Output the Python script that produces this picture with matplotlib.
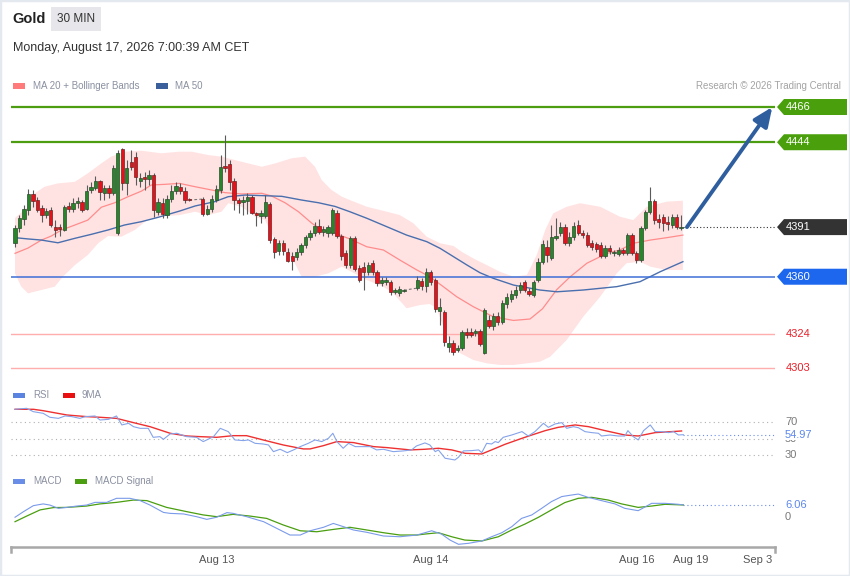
import numpy as np
import matplotlib
matplotlib.use('Agg')
import matplotlib.pyplot as plt
from matplotlib.patches import Rectangle, Polygon
import matplotlib.transforms as mtransforms

plt.rcParams['font.family'] = ['Liberation Sans', 'DejaVu Sans']

N = np.nan
# ---------------- candle data (30 min, NaN = no data) ----------------
opens = [4381.0, 4390.4, 4396.0, 4401.6, 4411.6, 4407.9, 4402.9, 4398.5, 4401.6, 4391.0,
         4391.0, 4389.1, 4404.1, 4402.3, 4406.0, 4406.6, 4402.3, 4414.1, 4415.4, 4419.8,
         4412.3, 4415.4, 4412.3, 4387.3, 4439.8, 4418.5, 4431.6, 4434.8, 4419.8, 4422.3,
         4421.0, 4423.5, 4400.4, 4406.0, 4398.5, 4408.5, 4413.5, 4416.0, 4413.5, 4408.5,
         N, N,
         4408.5, 4399.1, 4402.3, 4407.9, 4414.1, 4429.1, 4430.4, 4419.8, 4407.9, 4406.6,
         4407.3, 4409.8, 4399.8, 4397.9, 4397.9, 4405.4, 4383.5, 4376.0, 4381.0, 4375.4,
         4372.9, 4372.3, 4375.4, 4379.8, 4384.8, 4387.3, 4391.6, 4387.9, 4387.3, 4387.3,
         4399.8, 4385.4, 4374.8, 4367.3, 4384.1, 4365.4, 4366.0, 4362.9, 4368.5, 4362.9,
         4356.0, 4356.6, 4356.6, 4350.4, 4349.8, 4351.0,
         N, N,
         4352.9, 4357.3, 4354.1, 4362.9, 4357.9, 4338.5, 4337.9, 4316.0, 4318.5, 4314.1,
         4315.4, 4325.4, 4325.4, 4324.8, 4326.0, 4312.3, 4332.9, 4329.1, 4335.4, 4331.6,
         4342.9, 4346.0, 4348.5, 4351.6, 4356.6, 4351.0, 4348.5, 4357.9, 4369.1, 4378.5,
         4371.6, 4384.1, 4387.3, 4391.0, 4381.0, 4384.8, 4392.3, 4387.3, 4386.0, 4381.0,
         4380.4, 4379.8, 4372.9, 4377.9, 4374.8, 4374.1, 4376.6, 4374.8, 4386.0, 4374.8,
         4370.4, 4390.4, 4400.4, 4407.3, 4396.0, 4397.3, 4394.1, 4392.3, 4397.3, 4390.4]
closes = [4390.4, 4396.6, 4402.3, 4411.6, 4407.3, 4401.6, 4398.5, 4401.0, 4392.3, 4389.1,
          4389.8, 4403.5, 4402.3, 4406.0, 4407.3, 4401.6, 4413.5, 4416.0, 4419.8, 4412.9,
          4415.4, 4412.3, 4427.9, 4437.3, 4418.5, 4427.9, 4428.5, 4422.3, 4421.6, 4421.0,
          4423.5, 4401.6, 4406.6, 4399.1, 4408.5, 4413.5, 4416.6, 4413.5, 4407.9, 4407.9,
          N, N,
          4399.1, 4402.3, 4408.5, 4414.8, 4428.5, 4427.9, 4419.1, 4407.9, 4406.0, 4407.9,
          4409.8, 4399.8, 4398.5, 4399.8, 4406.6, 4382.9, 4375.4, 4381.0, 4376.0, 4369.8,
          4369.8, 4375.4, 4379.8, 4384.8, 4387.3, 4391.6, 4387.9, 4389.8, 4391.0, 4401.6,
          4385.4, 4372.9, 4367.3, 4384.1, 4364.8, 4357.9, 4362.9, 4367.3, 4362.9, 4356.0,
          4357.9, 4357.9, 4350.4, 4351.6, 4352.3, 4351.6,
          N, N,
          4357.9, 4354.1, 4362.9, 4356.6, 4339.8, 4341.0, 4319.1, 4318.5, 4312.9, 4315.4,
          4325.4, 4323.5, 4323.5, 4326.0, 4317.9, 4339.1, 4329.1, 4335.4, 4331.6, 4343.5,
          4347.3, 4349.1, 4351.6, 4354.8, 4351.6, 4349.1, 4356.6, 4369.1, 4380.4, 4373.5,
          4384.8, 4385.4, 4391.0, 4381.0, 4384.8, 4391.6, 4387.3, 4386.0, 4379.8, 4378.5,
          4377.3, 4372.9, 4377.9, 4376.0, 4375.4, 4376.6, 4374.8, 4386.0, 4374.8, 4370.4,
          4390.4, 4400.4, 4407.3, 4395.4, 4394.1, 4393.5, 4392.9, 4397.3, 4391.0, 4391.0]
highs = [4392.3, 4398.5, 4404.8, 4414.8, 4414.1, 4409.8, 4404.8, 4402.9, 4403.5, 4395.4,
         4392.9, 4404.8, 4406.6, 4409.1, 4409.8, 4407.9, 4417.3, 4419.1, 4422.9, 4420.4,
         4417.3, 4417.3, 4429.8, 4439.1, 4440.4, 4432.9, 4439.1, 4437.9, 4424.8, 4425.4,
         4426.6, 4424.8, 4409.1, 4409.1, 4411.0, 4417.3, 4419.1, 4418.5, 4416.0, 4409.1,
         N, N,
         4409.8, 4404.8, 4411.0, 4417.3, 4436.0, 4448.5, 4432.9, 4421.6, 4409.1, 4410.4,
         4412.3, 4411.0, 4400.4, 4401.6, 4411.0, 4406.6, 4384.8, 4382.9, 4382.9, 4377.9,
         4375.4, 4377.9, 4381.0, 4386.0, 4389.1, 4394.1, 4396.0, 4391.6, 4392.3, 4402.9,
         4401.6, 4386.6, 4376.6, 4385.4, 4385.4, 4367.3, 4369.1, 4369.1, 4370.4, 4364.1,
         4359.8, 4359.8, 4357.9, 4352.9, 4354.1, 4352.3,
         N, N,
         4360.4, 4359.1, 4365.4, 4364.1, 4359.1, 4346.6, 4339.1, 4322.9, 4320.4, 4317.3,
         4326.6, 4327.9, 4327.9, 4327.3, 4327.3, 4340.4, 4336.0, 4337.3, 4337.9, 4345.4,
         4349.8, 4351.6, 4354.1, 4356.6, 4357.9, 4352.9, 4357.9, 4371.6, 4382.9, 4382.9,
         4392.3, 4396.6, 4394.1, 4392.9, 4387.9, 4394.1, 4395.4, 4389.1, 4387.9, 4382.9,
         4381.6, 4381.6, 4379.8, 4379.8, 4376.6, 4378.5, 4377.9, 4387.3, 4387.3, 4376.0,
         4391.6, 4401.6, 4416.0, 4408.5, 4399.1, 4399.1, 4397.9, 4399.1, 4399.1, 4398.5]
lows = [4378.5, 4387.9, 4392.3, 4398.5, 4403.5, 4400.4, 4394.1, 4396.6, 4391.0, 4384.8,
        4385.4, 4388.5, 4400.4, 4400.4, 4402.9, 4400.4, 4401.6, 4412.3, 4414.1, 4407.9,
        4407.9, 4409.1, 4411.0, 4386.0, 4414.1, 4411.0, 4426.6, 4417.3, 4416.0, 4414.1,
        4417.3, 4397.3, 4398.5, 4396.6, 4396.6, 4406.6, 4411.6, 4411.6, 4406.0, 4407.3,
        N, N,
        4397.9, 4398.5, 4400.4, 4406.6, 4412.3, 4425.4, 4414.1, 4401.6, 4399.8, 4398.5,
        4399.1, 4399.1, 4391.6, 4393.5, 4396.6, 4381.0, 4371.6, 4373.5, 4373.5, 4369.1,
        4364.1, 4370.4, 4373.5, 4377.9, 4382.9, 4385.4, 4386.6, 4385.4, 4384.8, 4386.0,
        4384.1, 4370.4, 4365.4, 4365.4, 4363.5, 4356.6, 4351.6, 4361.0, 4361.0, 4354.1,
        4354.1, 4354.8, 4348.5, 4349.1, 4347.9, 4350.4,
        N, N,
        4351.6, 4351.6, 4350.4, 4354.8, 4337.9, 4329.8, 4316.6, 4312.9, 4311.0, 4312.9,
        4314.1, 4321.6, 4322.3, 4322.9, 4316.6, 4311.6, 4327.9, 4326.6, 4329.8, 4330.4,
        4340.4, 4344.1, 4346.6, 4349.8, 4350.4, 4347.9, 4347.3, 4356.6, 4367.9, 4369.1,
        4370.4, 4382.9, 4385.4, 4379.8, 4379.1, 4382.9, 4386.0, 4384.1, 4378.5, 4376.6,
        4375.4, 4371.6, 4371.6, 4374.1, 4372.9, 4372.9, 4373.5, 4373.5, 4373.5, 4368.5,
        4369.1, 4389.1, 4399.1, 4392.9, 4390.4, 4388.5, 4389.1, 4390.4, 4389.8, 4389.1]

# ---------------- overlays (bar index, price) ----------------
ma20_x = [0, 2.9, 5.9, 8.1, 10.4, 13.4, 16.3, 19.3, 22.3, 25.3, 28.3, 30.5, 33.5, 36.8, 40.3,
          43.2, 47.0, 50.7, 55.2, 57.4, 60.4, 63.4, 66.4, 68.6, 71.6, 74.9, 78.7, 82.4, 86.1,
          89.9, 92.8, 95.8, 98.8, 102.5, 107.0, 111.5, 115.2, 118.0, 121.2, 124.2, 127.9,
          132.4, 135.3, 138.3, 142.1, 145.8, 149.4]
ma20_y = [4374.6, 4377.9, 4382.9, 4385.4, 4389.2, 4392.3, 4395.4, 4403.4, 4406.2, 4410.0,
          4413.5, 4417.3, 4417.7, 4418.3, 4416.2, 4414.6, 4412.5, 4411.7, 4412.1, 4410.4,
          4406.2, 4400.6, 4393.4, 4389.2, 4387.1, 4383.6, 4378.7, 4376.7, 4370.4, 4364.2,
          4360.0, 4353.8, 4347.5, 4341.3, 4335.0, 4332.7, 4333.6, 4340.0, 4352.0, 4360.0,
          4368.4, 4374.6, 4376.7, 4380.9, 4382.9, 4384.4, 4386.0]
ma50_x = [0, 2.9, 5.9, 9.6, 13.4, 17.1, 20.8, 24.5, 28.3, 32.0, 36.8, 40.3, 44.7, 47.7, 51.5,
          55.9, 59.7, 64.1, 67.9, 71.6, 74.9, 78.7, 83.2, 87.6, 92.1, 95.1, 98.1, 101.1, 104.0,
          107.0, 111.5, 117.4, 121.2, 127.1, 134.6, 139.8, 144.3, 149.4]
ma50_y = [4384.4, 4383.6, 4382.9, 4381.2, 4384.0, 4386.5, 4389.2, 4392.3, 4394.4, 4397.1,
          4401.0, 4404.2, 4406.9, 4410.0, 4411.0, 4410.6, 4410.2, 4407.9, 4406.2, 4403.9,
          4400.6, 4396.5, 4391.2, 4386.0, 4381.9, 4377.7, 4372.5, 4367.3, 4362.5, 4359.0,
          4354.8, 4351.7, 4350.6, 4351.7, 4353.8, 4356.9, 4363.1, 4369.4]
bb_up_x = [0, 2.9, 4.4, 6.6, 9.6, 13.4, 16.3, 19.3, 21.5, 24.5, 28.3, 32.7, 36.8, 39.5, 43.2,
           46.2, 50.7, 55.2, 58.2, 61.9, 64.9, 67.1, 68.6, 70.8, 73.1, 74.9, 78.7, 83.2, 86.1,
           89.1, 92.1, 95.1, 98.1, 99.9, 102.5, 105.5, 108.5, 111.5, 114.5, 116.7, 118.6,
           120.4, 123.4, 126.4, 130.9, 135.3, 138.3, 141.3, 145.8, 149.4]
bb_up_y = [4396.7, 4403.7, 4412.1, 4416.2, 4418.3, 4419.3, 4424.6, 4430.8, 4435.0, 4438.1,
           4438.7, 4437.1, 4438.1, 4438.1, 4436.0, 4435.0, 4431.8, 4428.7, 4430.8, 4434.0,
           4435.0, 4428.7, 4420.4, 4414.2, 4410.0, 4407.9, 4403.7, 4400.6, 4398.5, 4393.4,
           4385.0, 4380.9, 4379.2, 4375.6, 4371.5, 4367.3, 4363.1, 4360.0, 4361.1, 4373.6,
           4389.2, 4399.6, 4403.7, 4405.9, 4403.7, 4397.5, 4395.4, 4403.7, 4406.9, 4407.5]
bb_lo_x = [0, 1.4, 2.9, 5.9, 8.9, 10.7, 13.4, 16.3, 18.6, 20.8, 23.8, 26.8, 29.8, 33.5, 36.8,
           40.3, 43.2, 46.2, 47.7, 50.7, 53.7, 55.9, 58.2, 60.4, 62.6, 64.1, 67.1, 70.1, 73.1,
           74.9, 78.7, 82.4, 84.6, 87.6, 90.6, 92.8, 94.3, 95.8, 97.3, 99.6, 102.5, 105.5,
           108.5, 111.5, 114.5, 117.4, 119.7, 123.4, 127.1, 130.9, 134.6, 136.8, 139.8, 142.1,
           145.8, 149.4]
bb_lo_y = [4362.1, 4353.8, 4349.6, 4351.7, 4353.8, 4360.0, 4367.3, 4373.6, 4380.9, 4385.4,
           4385.0, 4389.2, 4395.9, 4397.9, 4398.5, 4400.6, 4398.5, 4400.6, 4405.9, 4403.7,
           4397.5, 4395.4, 4382.9, 4376.7, 4368.4, 4360.0, 4360.0, 4362.1, 4366.3, 4363.6,
           4357.9, 4353.8, 4349.6, 4340.3, 4342.3, 4343.0, 4340.3, 4328.8, 4320.5, 4312.2,
           4308.0, 4305.9, 4304.9, 4304.9, 4305.9, 4306.9, 4310.0, 4320.5, 4335.0, 4347.5,
           4362.1, 4368.4, 4369.4, 4366.3, 4364.2, 4364.2]

# ---------------- RSI ----------------
rsi_x = [0, 2.6, 4.1, 6.3, 7.8, 9.7, 11.2, 12.7, 14.5, 15.7,
         17.9, 19.0, 20.9, 22.7, 23.9, 25.4, 26.5, 28.0, 29.8, 30.9,
         32.4, 33.2, 34.7, 36.2, 38.4, 40.6, 42.1, 44.4, 45.9, 47.7,
         49.2, 51.1, 52.2, 53.7, 55.5, 56.7, 57.8, 59.3, 60.9, 62.3,
         63.8, 65.6, 67.1, 68.6, 70.1, 71.1, 72.0, 73.4, 74.6, 76.1,
         77.9, 79.4, 80.9, 82.4, 84.6, 86.9, 88.7, 89.8, 91.7, 92.8,
         94.0, 94.7, 96.2, 98.4, 99.2, 100.3, 102.2, 103.7, 104.4, 105.5,
         106.6, 107.4, 108.1, 109.2, 111.1, 113.4, 114.8, 116.3, 118.2, 119.3,
         120.8, 122.3, 123.4, 124.9, 126.0, 127.5, 129.0, 130.5, 131.2, 133.1,
         134.9, 136.4, 137.1, 138.3, 139.4, 140.6, 142.1, 143.2, 144.7, 146.2,
         147.3, 148.4, 149.5]
rsi_v = [85.8, 87.0, 82.9, 80.9, 76.1, 74.8, 77.7, 76.9, 74.8, 76.9,
         77.7, 72.8, 73.6, 77.7, 66.8, 68.8, 64.7, 62.7, 62.7, 51.8,
         52.6, 49.4, 55.9, 56.7, 52.6, 51.8, 46.6, 52.6, 62.7, 58.7,
         48.6, 47.8, 48.6, 44.5, 43.7, 42.5, 34.4, 37.3, 33.2, 36.5,
         40.5, 44.5, 48.6, 46.6, 50.6, 56.7, 46.6, 38.5, 44.5, 40.5,
         40.5, 40.5, 36.5, 37.3, 34.4, 35.3, 36.5, 41.3, 45.0, 42.5,
         34.4, 36.5, 26.4, 24.3, 27.6, 35.3, 35.7, 36.5, 33.2, 44.5,
         43.7, 46.6, 45.4, 51.8, 54.6, 58.7, 53.4, 58.7, 68.8, 63.9,
         68.0, 69.6, 62.7, 64.7, 63.5, 58.7, 57.5, 56.7, 53.4, 54.6,
         53.4, 53.4, 59.9, 52.6, 48.6, 59.9, 66.8, 58.7, 58.7, 57.5,
         58.7, 54.6, 54.97]
rsi_ma_x = [0, 4.1, 6.3, 11.6, 16.0, 19.0, 22.7, 26.5, 30.2, 34.7, 38.4, 41.4, 45.1, 48.8, 51.8,
            55.5, 60.0, 64.5, 66.0, 69.0, 72.0, 75.7, 80.2, 83.2, 88.4, 91.7, 94.7, 97.7, 100.7,
            104.4, 106.6, 109.6, 113.4, 115.6, 118.6, 121.5, 125.3, 128.3, 132.0, 136.4, 139.4,
            143.2, 146.9, 149.1]
rsi_ma_v = [85.8, 85.8, 84.1, 78.9, 76.9, 76.1, 74.8, 69.6, 64.7, 56.7, 53.4, 52.6, 51.8, 53.8,
            53.8, 48.6, 42.5, 37.7, 37.7, 41.7, 46.6, 45.4, 40.5, 39.3, 36.5, 37.3, 38.5, 36.5,
            32.4, 31.6, 36.5, 43.3, 50.6, 54.6, 59.9, 63.9, 66.8, 64.7, 59.9, 54.6, 53.4, 57.5,
            58.7, 59.5]
rsi_levels = [70, 50, 30]

# ---------------- MACD ----------------
macd_x = [0, 1.9, 4.1, 6.3, 7.8, 9.7, 11.6, 13.8, 16.0, 17.9,
          20.5, 22.7, 25.7, 28.0, 30.2, 33.2, 34.7, 37.7, 40.6, 42.9,
          45.1, 47.4, 48.8, 51.8, 55.6, 58.5, 61.5, 63.8, 66.0, 69.0,
          71.2, 73.5, 75.7, 78.7, 82.4, 86.1, 89.9, 91.7, 93.2, 95.4,
          97.3, 99.2, 101.4, 104.4, 106.6, 108.9, 111.1, 113.3, 115.6, 117.8,
          120.0, 122.3, 124.5, 126.0, 128.2, 131.2, 134.2, 136.4, 139.4, 142.4,
          145.4, 148.4, 149.5]
macd_v = [-0.3, 2.6, 5.7, 6.6, 6.0, 4.3, 4.8, 5.5, 6.0, 7.4,
          7.4, 9.5, 9.5, 8.3, 6.0, 2.2, 1.7, 1.4, 0.0, -1.4,
          -0.3, 2.1, 1.7, 0.0, -2.6, -6.0, -9.5, -9.5, -7.3, -5.5,
          -3.5, -5.2, -6.9, -8.1, -10.0, -10.4, -9.5, -8.3, -7.3, -9.0,
          -12.1, -14.3, -13.8, -12.6, -10.4, -8.3, -5.2, -0.9, 0.9, 4.3,
          7.8, 10.4, 11.2, 11.7, 10.0, 8.3, 6.6, 4.3, 3.1, 6.9,
          6.9, 6.4, 6.06]
sig_x = [0, 2.6, 5.6, 8.6, 11.6, 16.0, 19.0, 22.7, 26.5, 29.5, 33.9, 38.4, 42.1, 45.1, 48.8,
         52.6, 56.3, 60.0, 63.8, 67.5, 71.2, 74.9, 78.7, 82.4, 86.1, 89.9, 91.7, 94.7, 97.7,
         100.6, 104.4, 108.1, 111.1, 114.1, 117.1, 120.0, 123.0, 126.0, 129.0, 132.7, 135.7,
         139.4, 142.4, 145.4, 149.5]
sig_v = [-2.6, 0.3, 3.5, 4.7, 4.8, 5.5, 6.6, 7.4, 8.6, 8.3, 4.8, 2.6, 0.9, 0.0, 1.2,
         0.3, -0.9, -4.3, -7.3, -7.8, -6.6, -5.5, -6.9, -8.3, -9.5, -9.5, -9.0, -8.3, -10.4,
         -12.1, -12.6, -10.4, -6.9, -3.8, -0.3, 3.5, 7.3, 9.5, 10.0, 8.6, 6.6,
         4.8, 5.5, 6.4, 6.06]

# ---------------- levels / axis ----------------
resist = [4466, 4444]
pivot = 4360
support = [4324, 4303]
last_price = 4391
tick_pos = [45.2, 93.0, 139.1, 151.2, 166.2]
tick_lab = ['Aug 13', 'Aug 14', 'Aug 16', 'Aug 19', 'Sep 3']

# ======================================================================
W, H = 850, 576
fig = plt.figure(figsize=(8.5, 5.76), dpi=100)
fig.patch.set_facecolor('white')


def fx(px):
    return px / W


def fy(py):
    return 1 - py / H


L, R = 11, 775
ax = fig.add_axes([fx(L), fy(380), (R - L) / W, (380 - 95) / H])
ax_r = fig.add_axes([fx(L), fy(465), (R - L) / W, (465 - 398) / H])
ax_m = fig.add_axes([fx(L), fy(547), (R - L) / W, (547 - 490) / H])
XL = (-0.9, 170.0)
for a in (ax, ax_r, ax_m):
    a.set_xlim(*XL)
    a.set_facecolor('none')
    for s in a.spines.values():
        s.set_visible(False)
    a.set_yticks([])
    a.set_xticks([])
ax.set_ylim(4295.5, 4473.5)
ax_r.set_ylim(18.2, 99.5)
ax_m.set_ylim(-15.7, 13.8)

# ---- Bollinger band, MAs
ax.fill(np.r_[bb_up_x, bb_lo_x[::-1]], np.r_[bb_up_y, bb_lo_y[::-1]],
        color='#ffe3e3', lw=0, zorder=1)
ax.plot(ma20_x, ma20_y, color='#ff8c8c', lw=0.9, zorder=2)
ax.plot(ma50_x, ma50_y, color='#4a6fae', lw=1.0, zorder=2)

# ---- level lines
for lv in resist:
    ax.axhline(lv, color='#4c9e10', lw=1.6, zorder=2.5)
ax.axhline(pivot, color='#3d6fd6', lw=1.1, zorder=2.5)
for lv in support:
    ax.axhline(lv, color='#ffadad', lw=1.0, zorder=2.5)

# ---- candles
o = np.array(opens); c = np.array(closes); hi = np.array(highs); lo = np.array(lows)
idx = np.arange(len(o))
valid = ~np.isnan(o)
up = valid & (c >= o)
dn = valid & (c < o)
ax.vlines(idx[valid], lo[valid], hi[valid], color='#5a5a5a', lw=0.8, zorder=3)
bh = np.maximum(np.abs(c - o), 0.4)
bb = np.minimum(o, c)
ax.bar(idx[up], bh[up], bottom=bb[up], width=0.74, color='#25862a',
       edgecolor='#2e4a2e', lw=0.5, zorder=4)
ax.bar(idx[dn], bh[dn], bottom=bb[dn], width=0.74, color='#e5121b',
       edgecolor='#6a2323', lw=0.5, zorder=4)
# dashed connectors over gaps
i = 0
while i < len(o):
    if np.isnan(o[i]):
        j = i
        while np.isnan(o[j]):
            j += 1
        ax.plot([i - 1, j], [c[i - 1], o[j]], color='#777777', lw=0.8,
                ls=(0, (2.5, 2)), zorder=3)
        i = j
    i += 1

last_i = idx[valid][-1]
ax.plot([last_i + 0.5, XL[1]], [last_price, last_price], color='#333333', lw=0.8,
        ls=(0, (1, 2)), zorder=2.5, clip_on=False)

# ---- arrow
ax.annotate('', xy=(169.4, resist[0]), xytext=(last_i + 1.3, last_price),
            arrowprops=dict(arrowstyle='-|>,head_length=1.15,head_width=0.5', lw=2.8,
                            color='#2f5e9f', shrinkA=0, shrinkB=0),
            annotation_clip=False, zorder=6)

# ---- right labels
bt = mtransforms.blended_transform_factory(ax.transAxes, ax.transData)
upp = (4473.5 - 4295.5) / 285.0


def ax_x(px):
    return (px - L) / (R - L)


def tag(price, face, text, tcolor='white'):
    hh = 8 * upp
    if face is not None:
        pts = [(ax_x(777), price), (ax_x(784), price + hh), (ax_x(847), price + hh),
               (ax_x(847), price - hh), (ax_x(784), price - hh)]
        ax.add_patch(Polygon(pts, closed=True, transform=bt, facecolor=face,
                             edgecolor='none', clip_on=False, zorder=5))
    ax.text(ax_x(786), price, text, transform=bt, color=tcolor, fontsize=8,
            va='center', ha='left', zorder=6, clip_on=False)


for lv in resist:
    tag(lv, '#4aa00c', str(lv))
tag(last_price, '#333333', str(last_price))
tag(pivot, '#1d66ee', str(pivot))
for lv in support:
    tag(lv, None, str(lv), tcolor='#e8202a')

# ---- RSI panel
for lv in rsi_levels:
    ax_r.axhline(lv, color='#b0b0b0', lw=0.8, ls=(0, (1, 3)))
ax_r.plot(rsi_ma_x, rsi_ma_v, color='#ee3030', lw=1.0, zorder=3)
ax_r.plot(rsi_x, rsi_v, color='#86a3ea', lw=0.8, zorder=4)
ax_r.plot([rsi_x[-1], XL[1]], [rsi_v[-1], rsi_v[-1]], color='#6a8ee8', lw=0.8,
          ls=(0, (1, 2.5)), clip_on=False)
bt_r = mtransforms.blended_transform_factory(ax_r.transAxes, ax_r.transData)
for lv in rsi_levels:
    ax_r.text(ax_x(785), lv, str(lv), transform=bt_r, color='#7a7a7a', fontsize=8,
              va='center', ha='left', clip_on=False)
ax_r.text(ax_x(785), rsi_v[-1], '%.2f' % rsi_v[-1], transform=bt_r, color='#5b87ee',
          fontsize=8, va='center', ha='left', clip_on=False,
          bbox=dict(facecolor='white', edgecolor='none', pad=0.3), zorder=5)

# ---- MACD panel
ax_m.plot(sig_x, sig_v, color='#4a9e10', lw=0.9, zorder=3)
ax_m.plot(macd_x, macd_v, color='#7a9aea', lw=0.8, zorder=4)
ax_m.plot([macd_x[-1], XL[1]], [macd_v[-1], macd_v[-1]], color='#6a8ee8', lw=0.8,
          ls=(0, (1, 2.5)), clip_on=False)
bt_m = mtransforms.blended_transform_factory(ax_m.transAxes, ax_m.transData)
ax_m.text(ax_x(785), macd_v[-1], '%.2f' % macd_v[-1], transform=bt_m, color='#5b87ee',
          fontsize=8, va='center', ha='left', clip_on=False)
ax_m.text(ax_x(785), 0, '0', transform=bt_m, color='#7a7a7a', fontsize=8,
          va='center', ha='left', clip_on=False)

# ---- time axis
ax_m.spines['bottom'].set_visible(True)
ax_m.spines['bottom'].set_color('#a8a8a8')
ax_m.spines['bottom'].set_linewidth(1.8)
ax_m.set_xticks(tick_pos)
ax_m.set_xticklabels(tick_lab)
ax_m.tick_params(axis='x', length=0, pad=6, labelsize=8, labelcolor='#555555')
for xe in (0, 1):
    ax_m.plot([xe, xe], [0, -0.09], transform=ax_m.transAxes, color='#a8a8a8',
              lw=1.8, clip_on=False)

# ---- header texts
fig.text(fx(12), fy(19), 'Gold', fontsize=10.5, fontweight='bold', color='#222222',
         va='center', ha='left')
fig.patches.append(Rectangle((fx(51), fy(31)), 50 / W, 24 / H, transform=fig.transFigure,
                             facecolor='#e7e7eb', edgecolor='none'))
fig.text(fx(76), fy(19), '30 MIN', fontsize=8.5, color='#333333', va='center', ha='center')
fig.text(fx(13), fy(48), 'Monday, August 17, 2026 7:00:39 AM CET', fontsize=9,
         color='#333333', va='center', ha='left')


def legend_item(x, y, color, text, tx):
    fig.patches.append(Rectangle((fx(x), fy(y + 2.5)), 12 / W, 5 / H,
                                 transform=fig.transFigure, facecolor=color, edgecolor='none'))
    fig.text(fx(tx), fy(y), text, fontsize=7, color='#8a90a0', va='center', ha='left')


legend_item(13, 86, '#ff7b7b', 'MA 20 + Bollinger Bands', 33)
legend_item(156, 86, '#3a5f9a', 'MA 50', 175)
legend_item(13, 395, '#5b84e0', 'RSI', 33)
legend_item(63, 395, '#e81010', '9MA', 82)
legend_item(13, 481, '#6a8ee8', 'MACD', 33)
legend_item(75, 481, '#4a9e10', 'MACD Signal', 95)
fig.text(fx(841), fy(86), 'Research \u00a9 2026 Trading Central', fontsize=7,
         color='#a3a3a3', va='center', ha='right')

fig.patches.append(Rectangle((0, 0), 1, 1, transform=fig.transFigure, fill=False,
                             edgecolor='#e4e9ef', lw=2.5))

fig.savefig('out.png', dpi=100, facecolor='white')
